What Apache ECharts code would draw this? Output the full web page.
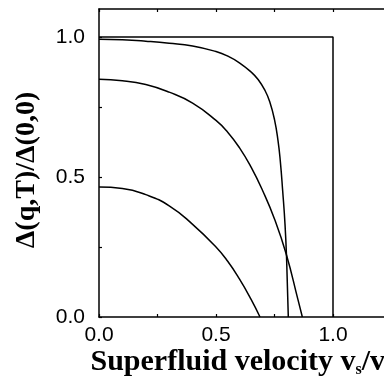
<!DOCTYPE html>
<html>
<head>
<meta charset="utf-8">
<script src="https://cdn.jsdelivr.net/npm/echarts@6/dist/echarts.min.js"></script>
<style>html,body{margin:0;padding:0;background:#fff}#c{width:384px;height:381px}</style>
</head>
<body>
<div id="c"></div>
<script>
// Step curve (T = 0)
const stepX = [0, 1.0, 1.0];
const stepY = [1.0, 1.0, 0.0];
// Curve A (lowest finite T)
const aX = [0.00, 0.10, 0.20, 0.30, 0.40, 0.50, 0.55, 0.60, 0.65, 0.68, 0.71, 0.73, 0.75, 0.765, 0.775, 0.785, 0.795, 0.802, 0.809];
const aY = [0.992, 0.990, 0.985, 0.978, 0.968, 0.948, 0.932, 0.908, 0.875, 0.848, 0.808, 0.768, 0.705, 0.630, 0.555, 0.450, 0.330, 0.200, 0.000];
// Curve B
const bX = [0.00, 0.10, 0.20, 0.30, 0.40, 0.50, 0.55, 0.60, 0.65, 0.70, 0.75, 0.80, 0.85, 0.869];
const bY = [0.849, 0.844, 0.830, 0.803, 0.764, 0.702, 0.660, 0.605, 0.535, 0.450, 0.350, 0.225, 0.063, 0.000];
// Curve C (highest T)
const cX = [0.00, 0.10, 0.20, 0.30, 0.40, 0.50, 0.55, 0.60, 0.65, 0.688];
const cY = [0.464, 0.459, 0.437, 0.397, 0.331, 0.250, 0.199, 0.136, 0.063, 0.000];
// Axis ticks
const xTickLabels = [0.0, 0.5, 1.0];
const yTickLabels = [0.0, 0.5, 1.0];

const zip = (xs, ys) => xs.map((x, i) => [x, ys[i]]);
const fmt = v => {
  const hit = xTickLabels.concat(yTickLabels).some(t => Math.abs(t - v) < 1e-6);
  return hit ? v.toFixed(1) : '';
};
const lineSeries = (data, smooth) => ({
  type: 'line', data, showSymbol: false, symbol: 'none', smooth: smooth,
  lineStyle: {color: '#000', width: 1.5}, silent: true, animation: false
});

const chart = echarts.init(document.getElementById('c'), null, {renderer: 'canvas'});
chart.setOption({
  animation: false,
  backgroundColor: '#fff',
  grid: {left: 99, top: 9, width: 292.5, height: 308, containLabel: false, outerBoundsMode: 'none'},
  xAxis: [{
    type: 'value', min: 0, max: 1.25, interval: 0.25,
    axisLine: {show: true, lineStyle: {color: '#000', width: 1.5}},
    axisTick: {show: true, inside: true, length: 3, lineStyle: {color: '#000', width: 1.2}},
    splitLine: {show: false},
    axisLabel: {formatter: fmt, color: '#000', fontFamily: 'Liberation Sans', fontSize: 21, margin: 8, showMaxLabel: false},
    name: 'Superfluid velocity v{sub|s}/v{sub|c}',
    nameLocation: 'end', nameGap: -301,
    nameTextStyle: {
      verticalAlign: 'top', padding: [30, 0, 0, 0],
      fontFamily: 'Liberation Serif', fontWeight: 'bold', fontSize: 30, color: '#000',
      rich: {sub: {fontFamily: 'Liberation Serif', fontWeight: 'bold', fontSize: 16, color: '#000', padding: [15, 0, 0, 0], verticalAlign: 'bottom'}}
    }
  }, {
    type: 'value', min: 0, max: 1.25, interval: 0.25, position: 'top',
    axisLine: {show: true, lineStyle: {color: '#000', width: 1.5}},
    axisTick: {show: true, inside: true, length: 3, lineStyle: {color: '#000', width: 1.2}},
    axisLabel: {show: false}, splitLine: {show: false}
  }],
  yAxis: [{
    type: 'value', min: 0, max: 1.1, interval: 0.25,
    axisLine: {show: true, lineStyle: {color: '#000', width: 1.5}},
    axisTick: {show: true, inside: true, length: 3, lineStyle: {color: '#000', width: 1.2}},
    splitLine: {show: false},
    axisLabel: {formatter: fmt, color: '#000', fontFamily: 'Liberation Sans', fontSize: 21, margin: 14, showMaxLabel: false},
    name: 'Δ(q,T)/Δ(0,0)', nameLocation: 'middle', nameGap: 58, nameRotate: 90,
    nameTextStyle: {fontFamily: 'Liberation Serif', fontWeight: 'bold', fontSize: 28, color: '#000', padding: [0, 14, 0, 0]}
  }],
  series: [
    lineSeries(zip(stepX, stepY), false),
    lineSeries(zip(aX, aY), 0.5),
    lineSeries(zip(bX, bY), 0.5),
    lineSeries(zip(cX, cY), 0.5)
  ]
});
</script>
</body>
</html>
